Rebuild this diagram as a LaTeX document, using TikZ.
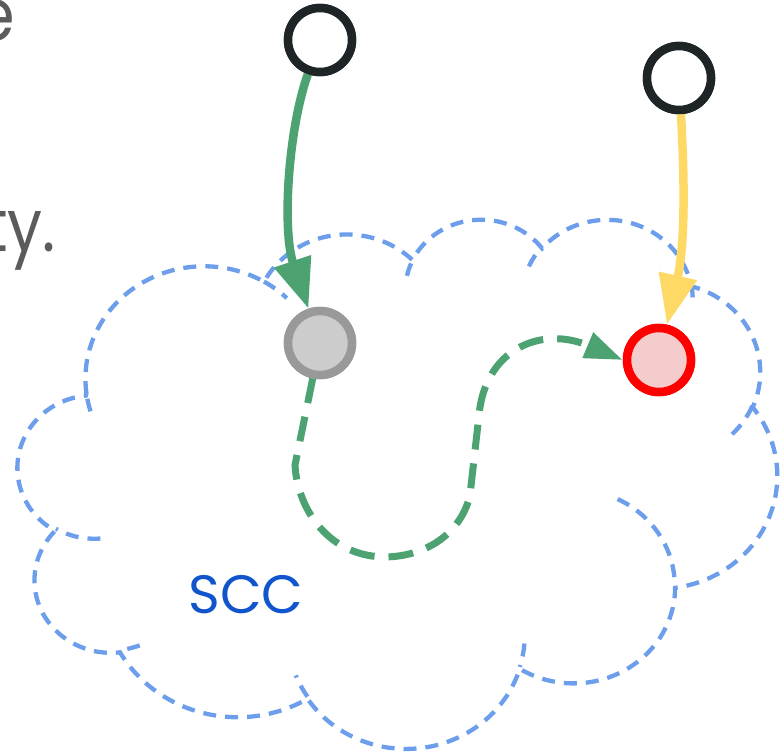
\documentclass[tikz,border=0pt]{standalone}
\usepackage{fontspec}
\setmainfont{Poppins}
\newfontfamily\bodyfont[FakeStretch=0.85]{Poppins}
\usetikzlibrary{arrows.meta}

\definecolor{cloudblue}{HTML}{6D9EEB}
\definecolor{edgegreen}{HTML}{4DA271}
\definecolor{edgeyellow}{HTML}{FFD966}
\definecolor{ringdark}{HTML}{1F2527}
\definecolor{ringgray}{HTML}{999999}
\definecolor{fillgray}{HTML}{CCCCCC}
\definecolor{ringred}{HTML}{FF0000}
\definecolor{fillred}{HTML}{F4CCCC}
\definecolor{textgray}{HTML}{5B5B5B}
\definecolor{labelblue}{HTML}{1155CC}

% Append an elliptical arc to the path stored in #1.
% #2,#3: radii; #4: start angle; #5: sweep (both measured as ray angles).
\newcommand\addcloudarc[5]{%
  \pgfmathsetmacro\cldA{atan2(#2*sin(#4),#3*cos(#4))}%
  \pgfmathsetmacro\cldB{atan2(#2*sin(#4+#5),#3*cos(#4+#5))}%
  \pgfmathsetmacro\cldD{mod(\cldB-\cldA+720,360)}%
  \xdef#1{#1 arc[x radius=#2, y radius=#3, start angle=\cldA, delta angle=\cldD]}%
}

\tikzset{
  cloudline/.style={draw=cloudblue, line width=4.3pt, dash pattern=on 13pt off 9pt},
  vtx/.style={circle, minimum size=64pt, inner sep=0pt, line width=8.5pt},
  srcnode/.style={vtx, draw=ringdark, fill=white},
  grynode/.style={vtx, draw=ringgray, fill=fillgray},
  rednode/.style={vtx, draw=ringred, fill=fillred},
  bigtip/.style={-{Triangle[length=50pt,width=37pt]}},
  greenedge/.style={draw=edgegreen, line width=8.5pt, bigtip},
  yellowedge/.style={draw=edgeyellow, line width=8.5pt, bigtip},
  loopedge/.style={draw=edgegreen, line width=7pt, dash pattern=on 25pt off 14pt,
    -{Triangle[length=38pt,width=26pt]}},
  bodytext/.style={text=textgray, inner sep=0pt, font=\bodyfont\fontsize{73pt}{84pt}\selectfont},
  scclabel/.style={text=labelblue, inner sep=0pt, font=\fontsize{54pt}{64pt}\selectfont},
}

\begin{document}
\begin{tikzpicture}[x=1pt, y=-1pt]
\useasboundingbox (0,0) rectangle (784,752);

% cloud outline with its inner folds
\begin{scope}[shift={(18,218)}, x=17.569pt, y=-12.245pt]
  \def\cloudpath{(3.9,14.37)}
  \addcloudarc\cloudpath{6.753}{9.19}{-190.4875}{123.7805}
  \addcloudarc\cloudpath{5.333}{7.267}{-144.1024}{89.9452}
  \addcloudarc\cloudpath{4.365}{5.945}{-145.8079}{99.723}
  \addcloudarc\cloudpath{4.857}{6.595}{-130.9861}{117.2417}
  \addcloudarc\cloudpath{5.333}{7.273}{-78.7089}{109.0269}
  \addcloudarc\cloudpath{6.775}{9.22}{-46.2673}{130.269}
  \addcloudarc\cloudpath{5.785}{7.867}{0.625}{114.0333}
  \addcloudarc\cloudpath{6.752}{9.215}{22.4516}{115.1726}
  \addcloudarc\cloudpath{7.72}{10.543}{66.2426}{75.711}
  \addcloudarc\cloudpath{4.36}{5.918}{-274.9421}{146.7356}
  \addcloudarc\cloudpath{4.345}{5.945}{-246.8285}{152.5189}
  \draw[cloudline] \cloudpath -- cycle;

  \def\foldA{(4.693,26.177)}\addcloudarc\foldA{4.345}{5.945}{86.742}{26.4295}
  \def\foldB{(6.928,34.899)}\addcloudarc\foldB{4.36}{5.918}{73.6105}{11.4475}
  \def\foldC{(16.478,39.09)}\addcloudarc\foldC{6.752}{9.215}{137.6242}{14.0811}
  \def\foldD{(28.827,34.751)}\addcloudarc\foldD{6.752}{9.215}{6.4533}{15.9984}
  \def\foldE{(34.129,22.954)}\addcloudarc\foldE{5.785}{7.867}{-70.2924}{70.9174}
  \def\foldF{(41.798,15.354)}\addcloudarc\foldF{5.333}{7.273}{30.318}{27.7515}
  \def\foldG{(38.324,5.426)}\addcloudarc\foldG{4.857}{6.595}{-13.7443}{14.8589}
  \def\foldH{(29.078,3.952)}\addcloudarc\foldH{4.857}{6.595}{-149.1815}{18.1954}
  \def\foldI{(22.141,4.72)}\addcloudarc\foldI{4.365}{5.945}{-163.4943}{17.6864}
  \def\foldJ{(14,5.192)}\addcloudarc\foldJ{6.753}{9.19}{-66.707}{12.3194}
  \def\foldK{(4.127,15.789)}\addcloudarc\foldK{6.753}{9.19}{157.6544}{11.8582}
  \draw[cloudline] \foldA; \draw[cloudline] \foldB; \draw[cloudline] \foldC;
  \draw[cloudline] \foldD; \draw[cloudline] \foldE; \draw[cloudline] \foldF;
  \draw[cloudline] \foldG; \draw[cloudline] \foldH; \draw[cloudline] \foldI;
  \draw[cloudline] \foldJ; \draw[cloudline] \foldK;
\end{scope}

% text running in from the left
\node[bodytext, anchor=base east] (wordA) at (15,41) {e};
\node[bodytext, anchor=base east] (wordB) at (56,251) {ty.};
\node[scclabel, anchor=base] (scc) at (246,613) {SCC};

% vertices
\node[srcnode] (s1) at (320,40) {};
\node[srcnode] (s2) at (679,78) {};
\node[grynode] (g) at (320,343) {};
\node[rednode] (r) at (659,360) {};

% edges
\draw[greenedge] (s1) .. controls (288,130) and (282,230) .. (g);
\draw[yellowedge] (s2) .. controls (684,170) and (686,240) .. (r);
\draw[loopedge] (g) -- (295,465)
  .. controls (297,505) and (325,555) .. (383,557)
  .. controls (430,557) and (462,530) .. (470,495)
  -- (479,415)
  .. controls (485,350) and (540,325) .. (r.west);

% keep vertices above edges
\node[srcnode] at (s1) {};
\node[srcnode] at (s2) {};
\node[grynode] at (g) {};
\node[rednode] at (r) {};
\end{tikzpicture}
\end{document}
